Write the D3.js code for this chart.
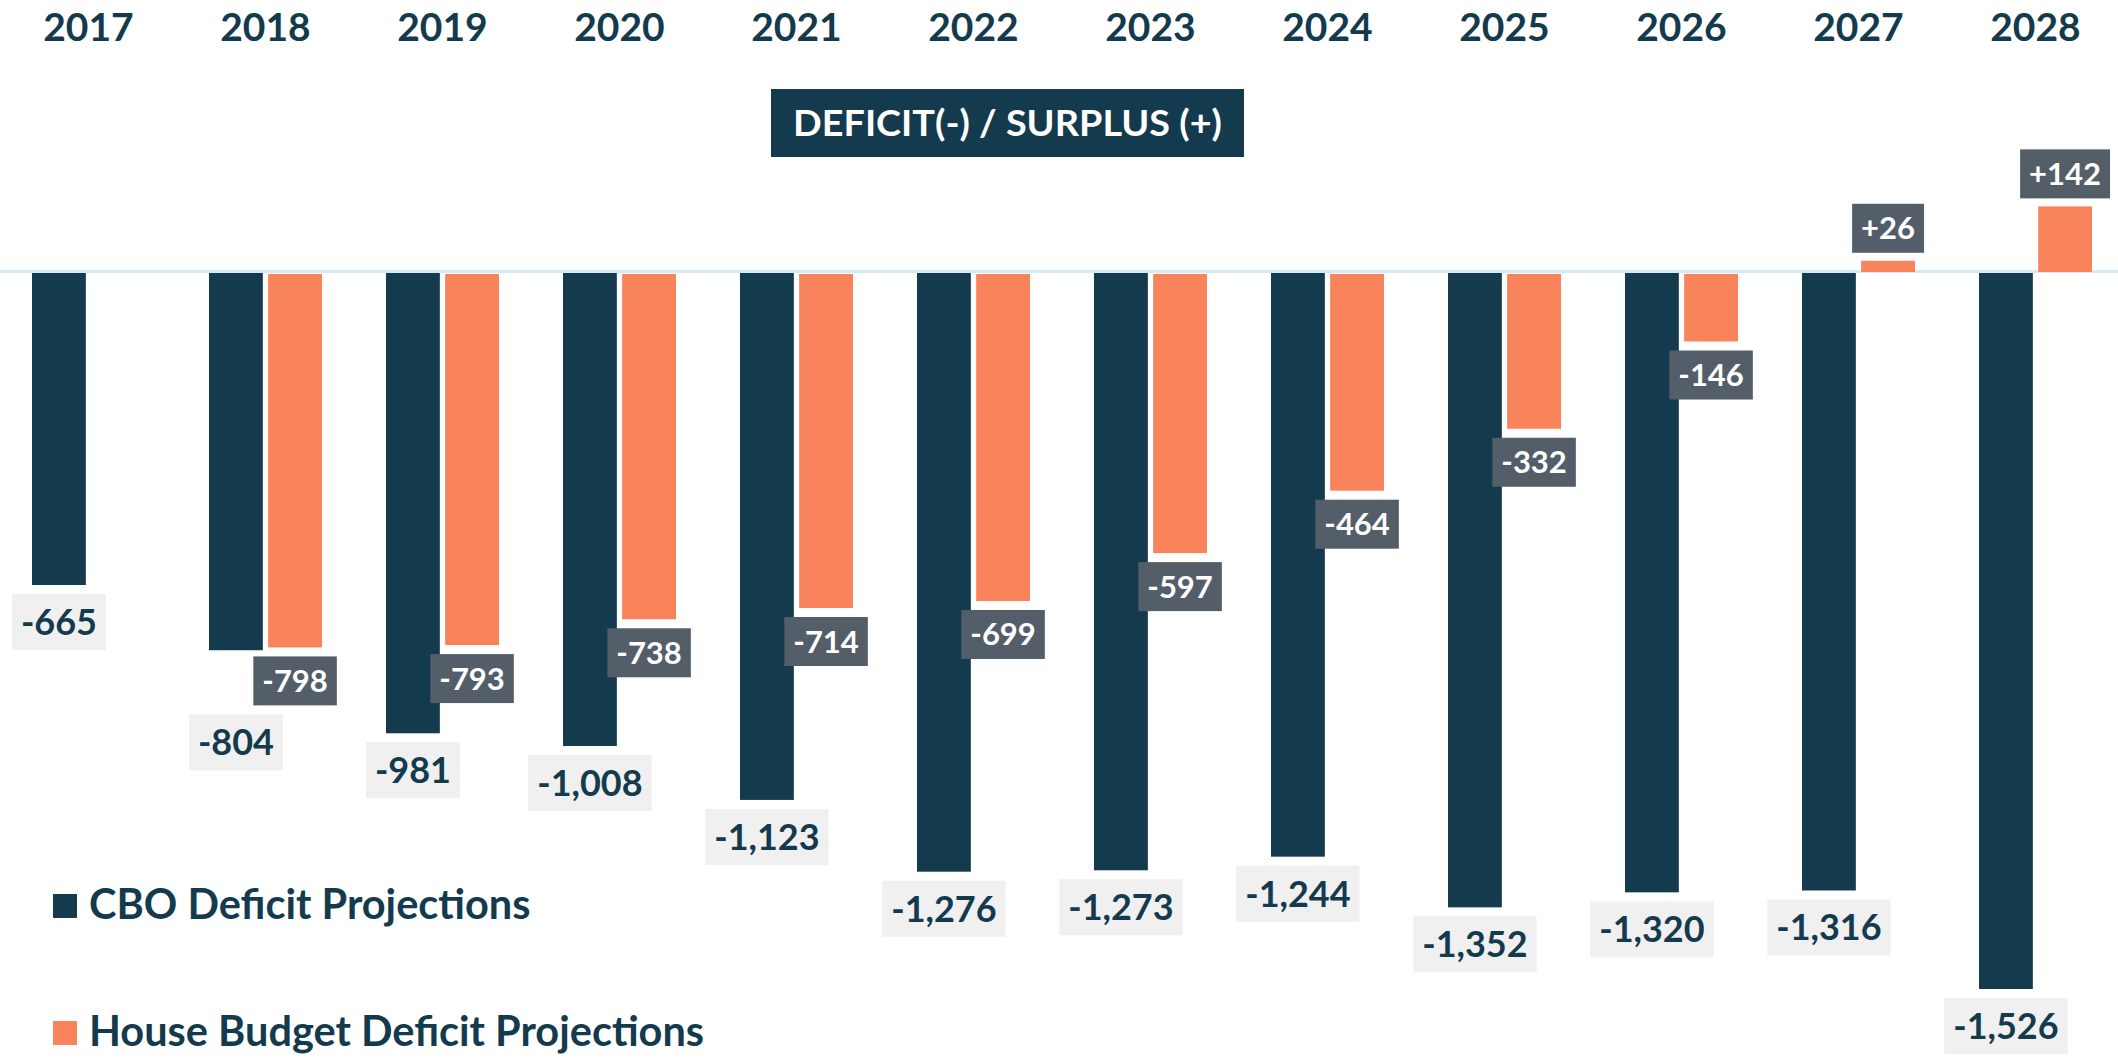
<!DOCTYPE html>
<html>
<head>
<meta charset="utf-8">
<script src="https://cdn.jsdelivr.net/npm/d3@7"></script>
<style>
  body { margin: 0; background: #fff; }
  text { font-family: Lato, "Open Sans", sans-serif; font-weight: 700; }
</style>
</head>
<body>
<div id="chart"></div>
<script>
// data (billions of dollars)
var years = ["2017","2018","2019","2020","2021","2022","2023","2024","2025","2026","2027","2028"];
var cbo = [-665, -804, -981, -1008, -1123, -1276, -1273, -1244, -1352, -1320, -1316, -1526];
var house = [null, -798, -793, -738, -714, -699, -597, -464, -332, -146, 26, 142];
var seriesNames = ["CBO Deficit Projections", "House Budget Deficit Projections"];
var title = "DEFICIT(-) / SURPLUS (+)";

var width = 2118, height = 1060;
var dark = "#133a4d", orange = "#f9845b", grey = "#545e69", light = "#f0f0f0";

var svg = d3.select("#chart").append("svg")
    .attr("width", width)
    .attr("height", height);

var x0 = d3.scaleBand().domain(years).range([0, 2124]);
var x1 = d3.scaleBand().domain(["cbo", "house"]).range([0, 113]).paddingInner(0.09);
var y = d3.scaleLinear().domain([0, -1526]).range([273, 989]);

var locale = d3.formatLocale({decimal: ".", thousands: ",", grouping: [3], currency: ["$", ""], minus: "-"});
var fmt = locale.format("+,");
var fmtNeg = locale.format(",");
function label(v) { return v > 0 ? fmt(v) : fmtNeg(v); }

function groupLeft(yr) { return x0(yr) + x0.bandwidth() / 2 - 56.5; }

// year labels along the top
svg.selectAll(".year").data(years).enter()
    .append("text")
    .attr("class", "year")
    .attr("x", function (d) { return x0(d) + x0.bandwidth() / 2; })
    .attr("y", 41)
    .attr("text-anchor", "middle")
    .attr("font-size", 39)
    .attr("fill", dark)
    .text(function (d) { return d; });

// title box
svg.append("rect")
    .attr("x", 771).attr("y", 89)
    .attr("width", 473).attr("height", 68)
    .attr("fill", dark);
svg.append("text")
    .attr("x", 1007.5).attr("y", 136)
    .attr("text-anchor", "middle")
    .attr("font-size", 37)
    .attr("fill", "#fff")
    .attr("textLength", 429)
    .attr("lengthAdjust", "spacingAndGlyphs")
    .text(title);

// zero line
svg.append("line")
    .attr("x1", 0).attr("x2", width)
    .attr("y1", y(0) - 1.5).attr("y2", y(0) - 1.5)
    .attr("stroke", "#d3ebf6")
    .attr("stroke-width", 3);

var rows = years.map(function (yr, i) { return {year: yr, cbo: cbo[i], house: house[i]}; });

// CBO bars
svg.selectAll(".bar-cbo").data(rows).enter()
    .append("rect")
    .attr("class", "bar-cbo")
    .attr("x", function (d) { return groupLeft(d.year) + x1("cbo"); })
    .attr("y", function (d) { return Math.min(y(0), y(d.cbo)); })
    .attr("width", x1.bandwidth())
    .attr("height", function (d) { return Math.abs(y(d.cbo) - y(0)); })
    .attr("fill", dark);

var houseRows = rows.filter(function (d) { return d.house !== null; });

// house bars
svg.selectAll(".bar-house").data(houseRows).enter()
    .append("rect")
    .attr("class", "bar-house")
    .attr("x", function (d) { return groupLeft(d.year) + x1("house"); })
    .attr("y", function (d) { return d.house > 0 ? y(d.house) : y(0) + 1; })
    .attr("width", x1.bandwidth())
    .attr("height", function (d) { return Math.abs(y(d.house) - y(0)) - 1; })
    .attr("fill", orange);

// house labels (grey boxes)
var hBoxes = {};
houseRows.forEach(function (d) {
    var cx = groupLeft(d.year) + x1("house") + x1.bandwidth() / 2;
    var g = svg.append("g");
    var t = g.append("text")
        .attr("text-anchor", "middle")
        .attr("font-size", 31)
        .attr("fill", "#fff")
        .text(label(d.house));
    var w = t.node().getComputedTextLength() + 18, h = 49;
    var top = d.house > 0 ? y(d.house) - 8 - h : y(d.house) + 9;
    g.insert("rect", "text")
        .attr("x", cx - w / 2).attr("y", top)
        .attr("width", w).attr("height", h)
        .attr("fill", grey);
    t.attr("x", cx).attr("y", top + h / 2 + 11);
    hBoxes[d.year] = {x0: cx - w / 2, x1: cx + w / 2, y0: top, y1: top + h};
});

// CBO labels (light boxes), pushed down if they hit the house label
rows.forEach(function (d) {
    var cx = groupLeft(d.year) + x1("cbo") + x1.bandwidth() / 2;
    var g = svg.append("g");
    var t = g.append("text")
        .attr("text-anchor", "middle")
        .attr("font-size", 36)
        .attr("fill", dark)
        .text(label(d.cbo));
    var w = t.node().getComputedTextLength() + 18, h = 56;
    var top = y(d.cbo) + 9;
    var hb = hBoxes[d.year];
    if (hb && hb.x0 < cx + w / 2 && hb.x1 > cx - w / 2 && hb.y1 > top && hb.y0 < top + h) {
        top = hb.y1 + 9;
    }
    g.insert("rect", "text")
        .attr("x", cx - w / 2).attr("y", top)
        .attr("width", w).attr("height", h)
        .attr("fill", light);
    t.attr("x", cx).attr("y", top + h / 2 + 13);
});

// legend
var legend = svg.selectAll(".legend").data(seriesNames).enter()
    .append("g")
    .attr("class", "legend")
    .attr("transform", function (d, i) { return "translate(53," + (894 + i * 127) + ")"; });
legend.append("rect")
    .attr("width", 24).attr("height", 24)
    .attr("fill", function (d, i) { return i === 0 ? dark : orange; });
legend.append("text")
    .attr("x", 36).attr("y", 25)
    .attr("font-size", 41.5)
    .attr("fill", dark)
    .text(function (d) { return d; });
</script>
</body>
</html>
